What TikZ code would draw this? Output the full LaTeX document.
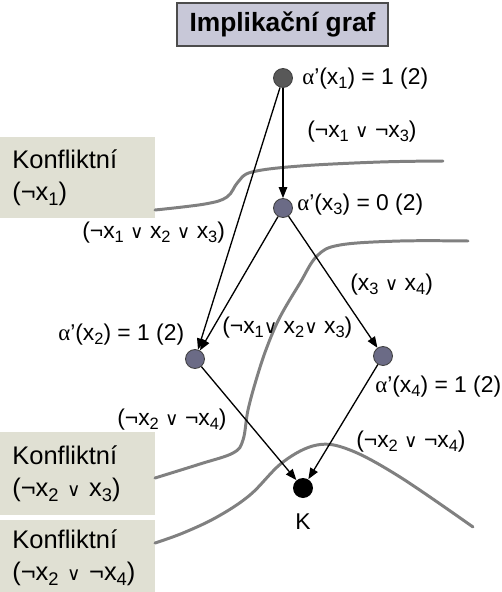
\documentclass[tikz,border=0pt]{standalone}
\usepackage{fontspec}
\usepackage{graphicx}
\setmainfont{Liberation Sans}
\newfontfamily\dvsfont{DejaVu Sans}
\newfontfamily\serfont{Liberation Serif}
\usepackage{tikz}
\usetikzlibrary{arrows.meta}
\definecolor{titleFill}{HTML}{C8C8D8}
\definecolor{konfFill}{HTML}{E0E0D3}
\definecolor{cutGray}{HTML}{808080}
\definecolor{vtxSlate}{HTML}{6B6B86}
\definecolor{vtxDark}{HTML}{585858}
\newcommand{\disj}{{\dvsfont\fontsize{10.5}{10.5}\selectfont ∨}}
\newcommand{\lowix}[1]{\raisebox{-0.35ex}{\scalebox{0.72}{#1}}}
\newcommand{\asgn}[1]{{\serfont α}’(x\lowix{#1})}

\begin{document}
\begin{tikzpicture}[x=0.02cm, y=-0.02cm,
    lbl/.style={font=\fontsize{13}{15}\selectfont, inner sep=0pt, anchor=base west},
    vtx/.style={circle, draw=black!75, line width=0.5pt, fill=vtxSlate, minimum size=0.38cm, inner sep=0pt},
    konf/.style={fill=konfFill, anchor=north west, inner xsep=0.24cm, text width=2.62cm, align=left,
      font=\fontsize{14.5}{18}\selectfont},
    cut/.style={draw=cutGray, line width=1.7pt, line cap=round},
    imp/.style={-{Triangle[length=2.2mm, width=1.7mm]}, line width=0.75pt}]
  \useasboundingbox (0,0) rectangle (502,592);
  % title
  \node[draw=black!70, line width=0.8pt, fill=titleFill, minimum width=4.22cm, minimum height=0.86cm,
    font=\bfseries\fontsize{15}{18}\selectfont] (title) at (282.5,24.5) {Implikační graf};
  % conflict boxes
  \node[konf, minimum height=1.62cm] (kA) at (0,137) {Konfliktní\\(¬x\lowix{1})};
  \node[konf, minimum height=1.66cm] (kB) at (0,432) {Konfliktní\\(¬x\lowix{2} \disj{} x\lowix{3})};
  \node[konf, minimum height=1.50cm] (kC) at (0,520) {Konfliktní\\(¬x\lowix{2} \disj{} ¬x\lowix{4})};
  % cuts
  \draw[cut] plot[smooth, tension=0.6] coordinates
    {(155,210) (205,204) (227,197) (238,182) (252,172) (300,166) (380,162) (443,161)};
  \draw[cut] plot[smooth, tension=0.6] coordinates
    {(155,478) (200,464) (233,453) (243,440) (248,410) (257,377) (267,347) (280,317)
     (300,283) (317,256) (340,245) (400,241) (468,241)};
  \draw[cut] plot[smooth, tension=0.6] coordinates
    {(155,543) (183,533) (217,517) (250,495) (283,462) (317,445) (350,450) (400,477) (473,527)};
  % vertices
  \node[vtx, fill=vtxDark] (x1) at (283,78) {};
  \node[vtx] (x3) at (283,208) {};
  \node[vtx] (x2) at (195,359) {};
  \node[vtx] (x4) at (383,356) {};
  \node[circle, fill=black, minimum size=0.4cm, inner sep=0pt] (K) at (303,488) {};
  % implications
  \draw[imp] (x1) -- (x3);
  \draw[imp] (x1) -- (x2);
  \draw[imp] (x3) -- (x2);
  \draw[imp] (x3) -- (x4);
  \draw[imp] (x2) -- (K);
  \draw[imp] (x4) -- (K);
  % labels
  \node[lbl] (lx1) at (302,84) {\asgn{1} = 1 (2)};
  \node[lbl] (c13) at (307,137) {(¬x\lowix{1} \disj{} ¬x\lowix{3})};
  \node[lbl] (lx3) at (297,210) {\asgn{3} = 0 (2)};
  \node[lbl] (c123a) at (82,238) {(¬x\lowix{1} \disj{} x\lowix{2} \disj{} x\lowix{3})};
  \node[lbl] (c34) at (350,290) {(x\lowix{3} \disj{} x\lowix{4})};
  \node[lbl] (lx2) at (58,340) {\asgn{2} = 1 (2)};
  \node[lbl] (c123b) at (222,333) {(¬x\lowix{1}\disj{} x\lowix{2}\disj{} x\lowix{3})};
  \node[lbl] (lx4) at (375,392) {\asgn{4} = 1 (2)};
  \node[lbl] (c24a) at (117,425) {(¬x\lowix{2} \disj{} ¬x\lowix{4})};
  \node[lbl] (c24b) at (356,447) {(¬x\lowix{2} \disj{} ¬x\lowix{4})};
  \node[lbl, anchor=base] (lK) at (303,529) {K};
\end{tikzpicture}
\end{document}
